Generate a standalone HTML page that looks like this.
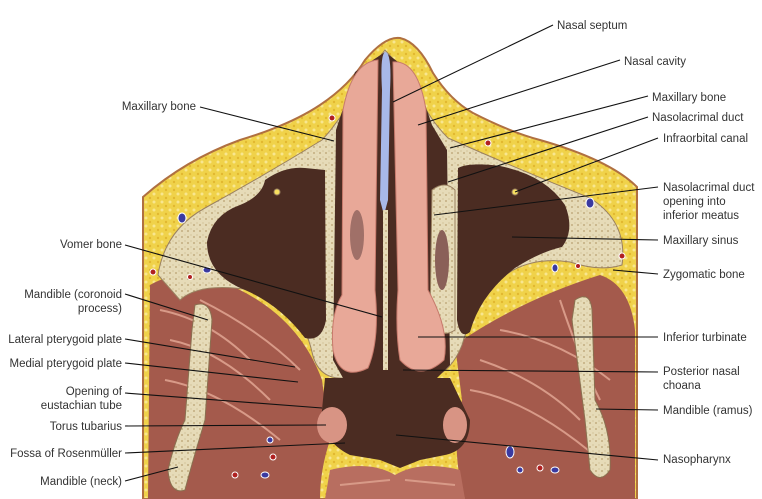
<!DOCTYPE html>
<html><head><meta charset="utf-8"><style>
html,body{margin:0;padding:0;background:#fff;}
svg{display:block;}
text{font-family:"Liberation Sans",sans-serif;font-size:11.5px;fill:#333;}
</style></head><body>
<svg width="762" height="499" viewBox="0 0 762 499" xmlns="http://www.w3.org/2000/svg">
<defs>
<pattern id="fat" width="8" height="8" patternUnits="userSpaceOnUse">
<rect width="8" height="8" fill="#f0d24a"/><circle cx="2" cy="2" r="1.5" fill="#f8e690"/><circle cx="6" cy="6" r="1.2" fill="#e2b830"/></pattern>
<pattern id="bone" width="6" height="6" patternUnits="userSpaceOnUse">
<rect width="6" height="6" fill="#e6dbb8"/><circle cx="2" cy="3" r="0.9" fill="#b8a070"/><circle cx="5" cy="1" r="0.6" fill="#c8b488"/></pattern>
</defs>
<!-- head -->
<path d="M143,499 L143,197 Q185,160 240,140 Q290,125 320,105 Q350,85 365,60 Q385,36 400,38 Q418,42 433,73 Q450,100 473,113 Q510,132 540,140 Q610,160 637,187 L637,499 Z" fill="url(#fat)" stroke="#b07040" stroke-width="2"/>
<!-- muscles -->
<path d="M150,285 Q190,262 240,290 Q300,320 322,380 L330,440 Q320,470 320,499 L148,499 Z" fill="#a45a4c"/>
<path d="M455,345 Q520,300 600,275 Q630,285 635,330 L635,499 L465,499 Q450,450 462,400 Z" fill="#a45a4c"/>
<path d="M330,470 Q370,460 395,475 Q420,460 460,470 L465,499 L325,499 Z" fill="#b86e60"/>
<path d="M160,310 Q210,320 250,360 M170,340 Q220,350 270,400 M165,380 Q220,390 280,440 M200,300 Q260,330 300,370 M480,360 Q540,380 580,420 M470,390 Q530,400 600,460 M560,300 Q580,360 600,400 M500,330 Q560,340 610,380 M340,485 L390,480 M405,480 L455,485" stroke="#d89a88" stroke-width="2" fill="none"/>
<!-- bone band -->
<path d="M158,275 Q165,230 205,208 Q265,175 322,140 Q345,115 362,80 L385,50 L412,80 Q425,115 448,138 Q520,170 590,198 Q628,222 622,265 Q600,272 570,262 Q490,250 462,345 Q448,380 420,378 L345,378 Q318,380 312,352 Q300,300 250,290 Q200,282 180,300 Z" fill="url(#bone)" stroke="#9a8060" stroke-width="1"/>
<!-- mandible coronoid/ramus -->
<path d="M195,305 Q210,300 212,320 L205,420 Q190,470 185,490 Q170,495 168,470 Q175,440 185,420 L192,330 Z" fill="url(#bone)" stroke="#8a7050"/>
<path d="M575,300 Q590,290 592,310 L595,400 Q612,430 610,470 Q600,485 590,470 L585,420 L572,320 Z" fill="url(#bone)" stroke="#8a7050"/>
<!-- sinuses -->
<path d="M207,242 Q212,215 240,205 Q262,196 265,180 Q285,166 305,168 L325,170 L326,320 Q322,342 305,338 Q280,305 245,290 Q207,275 207,242 Z" fill="#4b2c22"/>
<path d="M458,168 Q470,162 500,166 Q545,175 565,205 Q575,230 562,247 Q540,252 515,268 Q480,295 470,332 Q460,340 457,320 Z" fill="#4b2c22"/>
<!-- nasal cavity dark -->
<path d="M336,130 L355,72 L385,52 L415,75 L432,125 L447,150 L450,365 L437,378 L343,378 L333,360 Z" fill="#4b2c22"/>
<!-- NL duct wall on right -->
<path d="M432,190 Q445,180 455,190 L455,330 Q440,340 430,320 Z" fill="url(#bone)" stroke="#9a8060"/>
<ellipse cx="442" cy="260" rx="7" ry="30" fill="#8a6058"/>
<!-- turbinates -->
<path d="M343,110 Q352,62 378,60 L375,290 Q380,340 368,368 Q340,382 333,350 Q330,315 342,295 Z" fill="#e8a898" stroke="#c77a6c"/>
<path d="M393,62 Q418,60 426,110 L428,290 Q450,330 444,360 Q420,382 400,360 Q395,330 398,290 Z" fill="#e8a898" stroke="#c77a6c"/>
<path d="M385,52 Q392,52 390,90 L388,200 L384,215 L380,200 L382,90 Q380,55 385,52 Z" fill="#a8b8e8"/>
<rect x="383" y="210" width="5" height="160" fill="url(#bone)"/>
<ellipse cx="357" cy="235" rx="7" ry="25" fill="#a07068"/>
<!-- nasopharynx -->
<path d="M325,378 L450,378 L470,420 Q470,450 445,455 L420,460 L400,468 L380,460 L350,455 Q320,440 322,410 Z" fill="#4b2c22"/>
<ellipse cx="332" cy="425" rx="15" ry="18" fill="#d89484"/>
<ellipse cx="455" cy="425" rx="12" ry="18" fill="#d89484"/>
<!-- vessels -->
<g fill="#3a3aa0" stroke="#fff" stroke-width="1"><ellipse cx="182" cy="218" rx="4" ry="5"/><ellipse cx="590" cy="203" rx="4" ry="5"/><ellipse cx="207" cy="270" rx="4" ry="3"/><ellipse cx="555" cy="268" rx="3" ry="4"/><ellipse cx="265" cy="475" rx="4" ry="3"/><ellipse cx="510" cy="452" rx="4" ry="6"/><ellipse cx="520" cy="470" rx="3" ry="3"/><ellipse cx="555" cy="470" rx="4" ry="3"/><ellipse cx="270" cy="440" rx="3" ry="3"/></g>
<g fill="#b02020" stroke="#fff" stroke-width="1"><circle cx="332" cy="118" r="3"/><circle cx="488" cy="143" r="3"/><circle cx="153" cy="272" r="3"/><circle cx="190" cy="277" r="2.5"/><circle cx="578" cy="266" r="2.5"/><circle cx="622" cy="256" r="3"/><circle cx="273" cy="457" r="3"/><circle cx="540" cy="468" r="3"/><circle cx="235" cy="475" r="3"/></g>
<circle cx="277" cy="192" r="3" fill="#f8e060" stroke="#9a8060"/>
<circle cx="515" cy="192" r="3" fill="#f8e060" stroke="#9a8060"/>
<!-- leader lines -->
<g stroke="#111" stroke-width="1.1" fill="none">
<line x1="393" y1="102" x2="553" y2="25"/>
<line x1="418" y1="125" x2="620" y2="60"/>
<line x1="450" y1="148" x2="648" y2="96"/>
<line x1="448" y1="182" x2="648" y2="117"/>
<line x1="515" y1="192" x2="658" y2="138"/>
<line x1="434" y1="215" x2="658" y2="187"/>
<line x1="512" y1="237" x2="658" y2="240"/>
<line x1="613" y1="270" x2="658" y2="274"/>
<line x1="418" y1="337" x2="658" y2="337"/>
<line x1="403" y1="370" x2="658" y2="372"/>
<line x1="596" y1="409" x2="658" y2="410"/>
<line x1="396" y1="435" x2="658" y2="460"/>
<line x1="200" y1="107" x2="334" y2="141"/>
<line x1="125" y1="245" x2="382" y2="317"/>
<line x1="125" y1="294" x2="208" y2="320"/>
<line x1="125" y1="339" x2="295" y2="367"/>
<line x1="125" y1="363" x2="298" y2="382"/>
<line x1="125" y1="393" x2="322" y2="408"/>
<line x1="125" y1="426" x2="326" y2="425"/>
<line x1="125" y1="453" x2="345" y2="443"/>
<line x1="125" y1="481" x2="178" y2="467"/>
</g>
<!-- labels -->
<g text-anchor="start">
<text x="557" y="29">Nasal septum</text>
<text x="624" y="65">Nasal cavity</text>
<text x="652" y="101">Maxillary bone</text>
<text x="652" y="121">Nasolacrimal duct</text>
<text x="663" y="142">Infraorbital canal</text>
<text x="663" y="191">Nasolacrimal duct</text>
<text x="663" y="205">opening into</text>
<text x="663" y="219">inferior meatus</text>
<text x="663" y="244">Maxillary sinus</text>
<text x="663" y="278">Zygomatic bone</text>
<text x="663" y="341">Inferior turbinate</text>
<text x="663" y="375">Posterior nasal</text>
<text x="663" y="389">choana</text>
<text x="663" y="414">Mandible (ramus)</text>
<text x="663" y="463">Nasopharynx</text>
</g>
<g text-anchor="end">
<text x="196" y="110">Maxillary bone</text>
<text x="122" y="248">Vomer bone</text>
<text x="122" y="298">Mandible (coronoid</text>
<text x="122" y="312">process)</text>
<text x="122" y="343">Lateral pterygoid plate</text>
<text x="122" y="367">Medial pterygoid plate</text>
<text x="122" y="395">Opening of</text>
<text x="122" y="409">eustachian tube</text>
<text x="122" y="430">Torus tubarius</text>
<text x="122" y="457">Fossa of Rosenmüller</text>
<text x="122" y="485">Mandible (neck)</text>
</g>
</svg>
</body></html>
